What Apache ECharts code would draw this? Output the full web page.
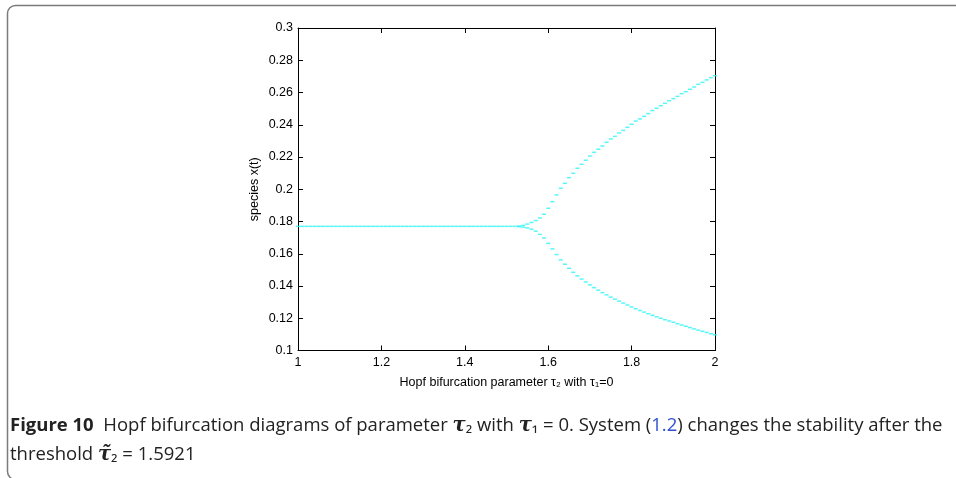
<!DOCTYPE html>
<html>
<head>
<meta charset="utf-8">
<script src="https://cdn.jsdelivr.net/npm/echarts@6/dist/echarts.min.js"></script>
<style>
  html, body { margin: 0; padding: 0; background: #fff; }
  #chart { width: 956px; height: 478px; }
</style>
</head>
<body>
<div id="chart"></div>
<script>
// tau2 values before the Hopf point, where x(t) sits on the equilibrium
const tauFlat = [
  1.00, 1.01, 1.02, 1.03, 1.04, 1.05, 1.06, 1.07, 1.08, 1.09,
  1.10, 1.11, 1.12, 1.13, 1.14, 1.15, 1.16, 1.17, 1.18, 1.19,
  1.20, 1.21, 1.22, 1.23, 1.24, 1.25, 1.26, 1.27, 1.28, 1.29,
  1.30, 1.31, 1.32, 1.33, 1.34, 1.35, 1.36, 1.37, 1.38, 1.39,
  1.40, 1.41, 1.42, 1.43, 1.44, 1.45, 1.46, 1.47, 1.48, 1.49,
  1.50, 1.51, 1.52
];
const EQUILIBRIUM = 0.177;

// tau2 values after the split, with the max / min of x(t)
const tauSplit = [
  1.53, 1.54, 1.55, 1.56, 1.57, 1.58, 1.59, 1.60, 1.61, 1.62,
  1.63, 1.64, 1.65, 1.66, 1.67, 1.68, 1.69, 1.70, 1.71, 1.72,
  1.73, 1.74, 1.75, 1.76, 1.77, 1.78, 1.79, 1.80, 1.81, 1.82,
  1.83, 1.84, 1.85, 1.86, 1.87, 1.88, 1.89, 1.90, 1.91, 1.92,
  1.93, 1.94, 1.95, 1.96, 1.97, 1.98, 1.99, 2.00
];
const xMax = [
  0.1772, 0.1776, 0.1784, 0.1794, 0.1806, 0.1822, 0.1845, 0.1882, 0.1923, 0.1965,
  0.2006, 0.2037, 0.2072, 0.2099, 0.2130, 0.2155, 0.2180, 0.2206, 0.2229, 0.2248,
  0.2268, 0.2291, 0.2312, 0.2328, 0.2349, 0.2365, 0.2384, 0.2403, 0.2423, 0.2436,
  0.2452, 0.2469, 0.2488, 0.2502, 0.2518, 0.2533, 0.2549, 0.2562, 0.2576, 0.2593,
  0.2605, 0.2620, 0.2634, 0.2651, 0.2663, 0.2678, 0.2692, 0.2704
];
const xMin = [
  0.1768, 0.1765, 0.1760, 0.1752, 0.1740, 0.1720, 0.1698, 0.1664, 0.1630, 0.1595,
  0.1562, 0.1535, 0.1510, 0.1485, 0.1463, 0.1443, 0.1425, 0.1407, 0.1390, 0.1374,
  0.1359, 0.1345, 0.1331, 0.1318, 0.1306, 0.1294, 0.1282, 0.1270, 0.1259, 0.1248,
  0.1238, 0.1228, 0.1218, 0.1209, 0.1200, 0.1191, 0.1183, 0.1175, 0.1166, 0.1158,
  0.1150, 0.1142, 0.1134, 0.1126, 0.1119, 0.1112, 0.1104, 0.1097
];

const CYAN = '#2ef5f5';
const AXIS_FONT = '"Liberation Sans", Arial, sans-serif';
const AXIS_SIZE = 12.5;
const CAP_FONT = '"Open Sans", "Noto Sans", sans-serif';
const CAP_SIZE = 18.5;

const flatData = tauFlat.map(t => [t, EQUILIBRIUM]);
const maxData = tauSplit.map((t, i) => [t, xMax[i]]);
const minData = tauSplit.map((t, i) => [t, xMin[i]]);

const dotSeries = (data) => ({
  type: 'scatter',
  symbol: 'rect',
  symbolSize: [4, 1.5],
  itemStyle: { color: CYAN },
  silent: true,
  data
});

const boxAxis = {
  axisLine: { show: true, onZero: false, lineStyle: { color: '#000', width: 1 } },
  axisTick: { show: true, inside: true, length: 5, lineStyle: { color: '#000' } },
  splitLine: { show: false }
};

const chart = echarts.init(document.getElementById('chart'));
chart.setOption({
  animation: false,
  backgroundColor: '#fff',
  grid: { left: 298, top: 28, right: 241, bottom: 127.5 },
  xAxis: [
    {
      ...boxAxis,
      type: 'value',
      min: 1, max: 2, interval: 0.2,
      position: 'bottom',
      axisLabel: { color: '#000', fontFamily: AXIS_FONT, fontSize: AXIS_SIZE, margin: 6 },
      name: 'Hopf bifurcation parameter τ₂ with τ₁=0',
      nameLocation: 'middle',
      nameGap: 26,
      nameTextStyle: { color: '#000', fontFamily: AXIS_FONT, fontSize: AXIS_SIZE }
    },
    {
      ...boxAxis,
      type: 'value',
      min: 1, max: 2, interval: 0.2,
      position: 'top',
      axisLabel: { show: false }
    }
  ],
  yAxis: [
    {
      ...boxAxis,
      type: 'value',
      min: 0.1, max: 0.3, interval: 0.02,
      position: 'left',
      axisLabel: { color: '#000', fontFamily: AXIS_FONT, fontSize: AXIS_SIZE, margin: 5 },
      name: 'species x(t)',
      nameLocation: 'middle',
      nameGap: 37,
      nameTextStyle: { color: '#000', fontFamily: AXIS_FONT, fontSize: AXIS_SIZE }
    },
    {
      ...boxAxis,
      type: 'value',
      min: 0.1, max: 0.3, interval: 0.02,
      position: 'right',
      axisLabel: { show: false }
    }
  ],
  series: [dotSeries(flatData), dotSeries(maxData), dotSeries(minData)],
  graphic: [
    {
      type: 'rect',
      shape: { x: 7.5, y: 5.5, width: 1000, height: 474, r: 8 },
      style: { fill: 'none', stroke: '#7a7a7a', lineWidth: 1.5 },
      silent: true
    },
    {
      type: 'text',
      left: 10,
      top: 416,
      style: {
        text: '{b|Figure 10}  Hopf bifurcation diagrams of parameter {t|τ}₂ with {t|τ}₁ = 0. System ({l|1.2}) changes the stability after the',
        font: CAP_SIZE + 'px ' + CAP_FONT,
        fill: '#222',
        rich: {
          b: { fontWeight: 'bold', fontSize: CAP_SIZE, fontFamily: CAP_FONT, fill: '#222' },
          t: { fontWeight: 'bold', fontStyle: 'italic', fontSize: CAP_SIZE + 1, fontFamily: 'DejaVu Serif', fill: '#222' },
          l: { fontSize: CAP_SIZE, fontFamily: CAP_FONT, fill: '#3050d0' }
        }
      }
    },
    {
      type: 'text',
      left: 10,
      top: 445,
      style: {
        text: 'threshold {t|τ̃}₂ = 1.5921',
        font: CAP_SIZE + 'px ' + CAP_FONT,
        fill: '#222',
        rich: {
          t: { fontWeight: 'bold', fontStyle: 'italic', fontSize: CAP_SIZE + 1, fontFamily: 'DejaVu Serif', fill: '#222' }
        }
      }
    }
  ]
});
</script>
</body>
</html>
